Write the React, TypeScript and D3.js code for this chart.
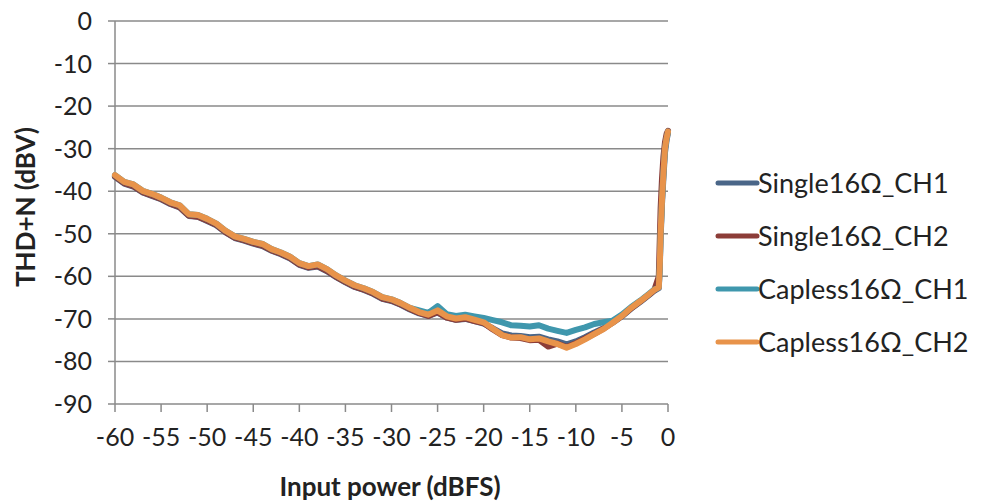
import React from "react";
import * as d3 from "d3";

const width = 997;
const height = 502;

// input power (dBFS)
const inputPower = [
  -60, -59, -58, -57, -56, -55, -54, -53, -52, -51, -50, -49, -48, -47, -46, -45,
  -44, -43, -42, -41, -40, -39, -38, -37, -36, -35, -34, -33, -32, -31, -30, -29,
  -28, -27, -26, -25, -24, -23, -22, -21, -20, -19, -18, -17, -16, -15, -14, -13,
  -12, -11, -10, -9, -8, -7, -6, -5, -4, -3, -2, -1.5, -1, -0.9, -0.8, -0.65,
  -0.5, -0.33, -0.15, 0
];

// THD+N (dBV) per series
const single16CH1 = [
  -36.6, -38.2, -38.9, -40.3, -41.1, -41.9, -43.0, -43.8, -45.8, -46.0, -47.0, -48.0,
  -49.7, -51.0, -51.6, -52.3, -52.9, -54.0, -54.8, -55.8, -57.3, -58.0, -57.7, -58.8,
  -60.2, -61.4, -62.5, -63.2, -64.1, -65.3, -65.8, -66.7, -67.8, -68.7, -69.3, -68.5,
  -69.7, -70.2, -70.0, -70.5, -71.1, -72.2, -73.4, -73.9, -74.0, -74.3, -74.2, -74.8,
  -75.3, -76.0, -75.3, -74.3, -73.2, -72.2, -70.9, -69.4, -67.6, -66.0, -64.3, -63.4,
  -62.8, -58.5, -51.0, -43.0, -37.0, -31.0, -28.0, -26.3
];
const single16CH2 = [
  -36.5, -38.1, -38.8, -40.2, -41.0, -41.8, -42.9, -43.7, -45.7, -46.0, -46.9, -47.9,
  -49.6, -50.9, -51.5, -52.2, -52.8, -53.9, -54.7, -55.7, -57.2, -57.9, -57.6, -58.7,
  -60.1, -61.3, -62.4, -63.1, -64.0, -65.2, -65.7, -66.6, -67.7, -68.6, -69.3, -68.4,
  -69.7, -70.2, -69.9, -70.5, -71.0, -72.5, -73.8, -74.4, -74.5, -75.0, -74.9, -76.5,
  -75.8, -76.6, -75.7, -74.6, -73.5, -72.3, -70.8, -69.3, -67.5, -65.9, -64.2, -63.3,
  -60.0, -52.0, -44.0, -37.0, -32.0, -28.5, -26.5, -25.8
];
const capless16CH1 = [
  -36.2, -37.8, -38.4, -39.9, -40.6, -41.5, -42.6, -43.3, -45.4, -45.6, -46.5, -47.6,
  -49.3, -50.6, -51.2, -51.9, -52.4, -53.6, -54.4, -55.4, -56.9, -57.6, -57.2, -58.3,
  -59.8, -61.0, -62.1, -62.8, -63.7, -64.9, -65.4, -66.3, -67.4, -68.0, -68.6, -67.0,
  -68.9, -69.3, -69.0, -69.4, -69.8, -70.3, -70.8, -71.5, -71.6, -71.8, -71.5, -72.3,
  -72.8, -73.3, -72.6, -72.0, -71.2, -70.8, -70.4, -69.0, -67.2, -65.7, -64.0, -63.1,
  -62.5, -58.0, -50.0, -42.0, -36.0, -30.0, -27.5, -26.0
];
const capless16CH2 = [
  -36.2, -37.8, -38.4, -39.9, -40.6, -41.5, -42.6, -43.3, -45.4, -45.6, -46.5, -47.6,
  -49.3, -50.6, -51.2, -51.9, -52.4, -53.6, -54.4, -55.4, -56.9, -57.6, -57.2, -58.3,
  -59.8, -61.0, -62.1, -62.8, -63.7, -64.9, -65.4, -66.3, -67.4, -68.4, -69.0, -68.0,
  -69.4, -69.9, -69.6, -70.2, -70.8, -72.3, -73.8, -74.4, -74.3, -74.8, -74.6, -75.3,
  -75.9, -76.8, -75.9, -74.8, -73.6, -72.4, -70.9, -69.3, -67.4, -65.8, -64.1, -63.2,
  -62.6, -58.0, -50.0, -42.0, -36.0, -30.0, -27.5, -26.0
];

const seriesNames = ["Single16Ω_CH1", "Single16Ω_CH2", "Capless16Ω_CH1", "Capless16Ω_CH2"];
const seriesColors = ["#4a6688", "#8c3d38", "#3f97ad", "#e8934a"];
const seriesValues = [single16CH1, single16CH2, capless16CH1, capless16CH2];

const xTicks = [-60, -55, -50, -45, -40, -35, -30, -25, -20, -15, -10, -5, 0];
const yTicks = [0, -10, -20, -30, -40, -50, -60, -70, -80, -90];

const font = "Lato, 'Open Sans', sans-serif";

export default function App() {
  const x = d3.scaleLinear().domain([-60, 0]).range([115, 668]);
  const y = d3.scaleLinear().domain([-90, 0]).range([404, 21]);
  const line = d3
    .line<number>()
    .x((_, i) => x(inputPower[i]))
    .y(d => y(d));

  return (
    <svg
      width={width}
      height={height}
      style={{ position: "absolute", left: 0, top: 0, background: "#fff" }}
      fontFamily={font}
    >
      {/* grid */}
      {yTicks.slice(0, -1).map(t => (
        <line key={t} x1={115} x2={668} y1={y(t)} y2={y(t)} stroke="#8a8a8a" strokeWidth={1.5} />
      ))}
      {/* y axis */}
      <line x1={115} x2={115} y1={y(0)} y2={y(-90)} stroke="#8a8a8a" strokeWidth={1.5} />
      {yTicks.map(t => (
        <g key={t}>
          <line x1={108} x2={115} y1={y(t)} y2={y(t)} stroke="#8a8a8a" strokeWidth={1.5} />
          <text x={92} y={y(t)} dy="0.36em" textAnchor="end" fontSize={25} fill="#222">
            {t}
          </text>
        </g>
      ))}
      {/* x axis */}
      <line x1={115} x2={668} y1={y(-90)} y2={y(-90)} stroke="#8a8a8a" strokeWidth={1.5} />
      {xTicks.map(t => (
        <g key={t}>
          <line x1={x(t)} x2={x(t)} y1={y(-90)} y2={y(-90) + 8} stroke="#8a8a8a" strokeWidth={1.5} />
          <text x={x(t)} y={y(-90) + 42} textAnchor="middle" fontSize={25} fill="#222">
            {t}
          </text>
        </g>
      ))}
      <text x={390} y={496} textAnchor="middle" fontSize={26} fontWeight="bold" fill="#222">
        Input power (dBFS)
      </text>
      <text
        transform={`translate(35,${207}) rotate(-90)`}
        textAnchor="middle"
        fontSize={26}
        fontWeight="bold"
        fill="#222"
      >
        THD+N (dBV)
      </text>

      {/* series */}
      {seriesValues.map((vals, i) => (
        <path
          key={seriesNames[i]}
          d={line(vals) || ""}
          fill="none"
          stroke={seriesColors[i]}
          strokeWidth={6}
          strokeLinejoin="round"
          strokeLinecap="round"
        />
      ))}

      {/* legend */}
      {seriesNames.map((name, i) => (
        <g key={name} transform={`translate(718,${183 + i * 53})`}>
          <line x1={0} x2={39} y1={0} y2={0} stroke={seriesColors[i]} strokeWidth={5} strokeLinecap="round" />
          <text x={40} y={0} dy="0.36em" fontSize={27} fill="#222">
            {name}
          </text>
        </g>
      ))}
    </svg>
  );
}
